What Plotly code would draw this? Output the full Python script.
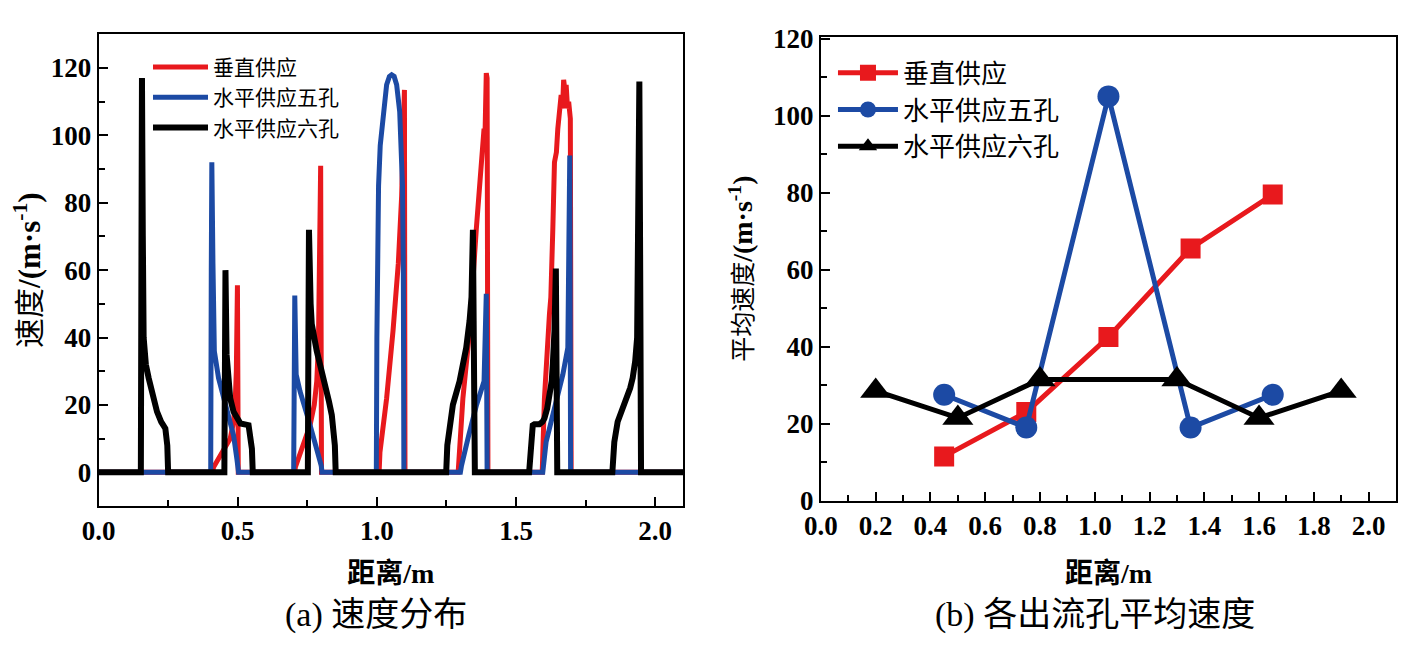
import plotly.graph_objects as go

# ---- (a) velocity distribution along the pipe ----
names = ["垂直供应", "水平供应五孔", "水平供应六孔"]

vert_x = [0.0, 0.41, 0.413, 0.44, 0.473, 0.485, 0.491, 0.495, 0.497, 0.499, 0.502,
          0.705, 0.707, 0.76, 0.775, 0.784, 0.79, 0.793, 0.796, 0.798, 0.801,
          1.008, 1.011, 1.035, 1.058, 1.077, 1.089, 1.094, 1.097, 1.099, 1.101,
          1.292, 1.309, 1.333, 1.357, 1.375, 1.385, 1.388, 1.39, 1.392, 1.393, 1.396, 1.399,
          1.594, 1.602, 1.62, 1.625, 1.632, 1.638, 1.645, 1.65, 1.662, 1.667, 1.671,
          1.676, 1.68, 1.685, 1.689, 1.695, 1.698, 2.1]
vert_y = [0, 0, 1.5, 5.5, 10, 15, 21, 30, 42, 55.5, 0,
          0, 1.5, 14, 20, 27, 38, 52, 75, 91, 0,
          0, 6, 22, 42, 62, 82, 102, 110, 113.5, 0,
          0, 22, 42, 72, 92, 102, 98, 110, 104, 118.5, 117, 0,
          0, 22, 47, 52, 72, 92, 95, 102, 112, 108, 116.5,
          113, 115, 108, 110, 105, 0, 0]

five_x = [0.0, 0.403, 0.405, 0.407, 0.411, 0.416, 0.431, 0.461, 0.485, 0.497, 0.503,
          0.701, 0.703, 0.705, 0.71, 0.724, 0.76, 0.784, 0.8, 0.803,
          0.998, 1.0, 1.003, 1.006, 1.012, 1.023, 1.035, 1.045, 1.053, 1.062,
          1.071, 1.082, 1.088, 1.092, 1.095, 1.097,
          1.3, 1.304, 1.33, 1.358, 1.385, 1.39, 1.393, 1.396,
          1.596, 1.608, 1.632, 1.668, 1.686, 1.69, 1.693, 1.696, 2.1]
five_y = [0, 0, 60, 92, 62, 36, 28, 18, 11, 4, 0,
          0, 35, 52.5, 29, 24, 14, 7, 2, 0,
          0, 40, 70, 85, 97, 107, 115, 117.5, 118, 117.5,
          115, 107, 97, 85, 60, 0,
          0, 2, 11, 20, 27, 40, 53, 0,
          0, 9, 17, 29, 37, 60, 94, 0, 0]

six_x = [0.0, 0.152, 0.154, 0.156, 0.159, 0.162, 0.17, 0.18, 0.195, 0.21, 0.225, 0.24, 0.247, 0.25,
         0.452, 0.454, 0.456, 0.46, 0.467, 0.473, 0.485, 0.497, 0.51, 0.539, 0.546, 0.551, 0.554,
         0.752, 0.754, 0.756, 0.762, 0.766, 0.784, 0.8, 0.814, 0.828, 0.838, 0.845, 0.849, 0.852,
         1.249, 1.253, 1.258, 1.273, 1.297, 1.321, 1.333, 1.34, 1.345, 1.349, 1.352,
         1.547, 1.551, 1.554, 1.56, 1.566, 1.584, 1.595, 1.602, 1.612, 1.62, 1.628, 1.632, 1.638,
         1.643, 1.646, 1.648,
         1.846, 1.849, 1.853, 1.865, 1.88, 1.895, 1.91, 1.919, 1.928, 1.935, 1.94, 1.943, 1.946,
         1.949, 2.1]
six_y = [0, 0, 60, 117, 70, 40, 32, 28, 22, 18, 15, 13, 8, 0,
         0, 30, 60, 35, 26, 22, 18, 16, 14.5, 14, 11, 7, 0,
         0, 40, 72, 50, 44, 36, 31, 27, 21, 17, 12, 8, 0,
         0, 8, 12, 20, 27, 37, 45, 52, 72, 40, 0,
         0, 6, 12, 14, 14.3, 14.3, 15, 16, 19, 22, 27, 32, 42,
         60.5, 30, 0,
         0, 5, 9, 15, 18, 21, 25, 28, 33, 40, 70, 116, 60,
         0, 0]

# ---- (b) mean velocity of each outlet ----
vert_hole_x = [0.45, 0.75, 1.05, 1.35, 1.65]
vert_hole_y = [11.5, 23, 42.5, 65.5, 79.5]
five_hole_x = [0.45, 0.75, 1.05, 1.35, 1.65]
five_hole_y = [27.5, 19, 105, 19, 27.5]
six_hole_x = [0.2, 0.5, 0.8, 1.3, 1.6, 1.9]
six_hole_y = [28.5, 21.5, 31.5, 31.5, 21.5, 28.5]

RED = "#e8191d"
BLUE = "#1c4aa4"
BLACK = "#000000"
SERIF = "Liberation Serif, Noto Sans CJK SC"
CJK = "Noto Sans CJK SC"

fig = go.Figure()

fig.add_trace(go.Scatter(x=vert_x, y=vert_y, mode="lines", name=names[0],
                         line=dict(color=RED, width=5), legend="legend"))
fig.add_trace(go.Scatter(x=five_x, y=five_y, mode="lines", name=names[1],
                         line=dict(color=BLUE, width=5), legend="legend"))
fig.add_trace(go.Scatter(x=six_x, y=six_y, mode="lines", name=names[2],
                         line=dict(color=BLACK, width=6), legend="legend"))

fig.add_trace(go.Scatter(x=vert_hole_x, y=vert_hole_y, mode="lines+markers", name=names[0],
                         line=dict(color=RED, width=5),
                         marker=dict(symbol="square", size=20, color=RED),
                         xaxis="x2", yaxis="y2", legend="legend2"))
fig.add_trace(go.Scatter(x=five_hole_x, y=five_hole_y, mode="lines+markers", name=names[1],
                         line=dict(color=BLUE, width=5),
                         marker=dict(symbol="circle", size=22, color=BLUE),
                         xaxis="x2", yaxis="y2", legend="legend2"))
fig.add_trace(go.Scatter(x=six_hole_x, y=six_hole_y, mode="lines+markers", name=names[2],
                         line=dict(color=BLACK, width=5),
                         marker=dict(symbol="triangle-up", size=27, color=BLACK),
                         xaxis="x2", yaxis="y2", legend="legend2"))

axis_common = dict(
    showline=True, linecolor="black", linewidth=2, mirror=True,
    ticks="inside", ticklen=9, tickwidth=2, tickcolor="black",
    showgrid=False, zeroline=False, automargin=False,
    tickfont=dict(family="Liberation Serif", size=27, color="black", weight="bold"),
)

unit = "<b><span style='font-size:{}px'>/(m·s<sup>-1</sup>)</span></b>"

fig.update_layout(
    width=1417, height=651,
    margin=dict(l=0, r=0, t=0, b=0, autoexpand=False),
    paper_bgcolor="white", plot_bgcolor="white",
    xaxis=dict(axis_common, domain=[0.0639, 0.4764], range=[0, 2.1],
               tickvals=[0, 0.5, 1.0, 1.5, 2.0], ticktext=["0.0", "0.5", "1.0", "1.5", "2.0"],
               minor=dict(ticks="inside", ticklen=6, tickwidth=2, dtick=0.25, tick0=0),
               title=dict(text="<b>距离/m</b>", standoff=18,
                          font=dict(family=SERIF, size=28, color="black"))),
    yaxis=dict(axis_common, domain=[0.235, 0.9596], range=[-10, 130],
               tickvals=[0, 20, 40, 60, 80, 100, 120],
               minor=dict(ticks="inside", ticklen=6, tickwidth=2, dtick=10, tick0=0),
               title=dict(text="速度" + unit.format(31), standoff=5,
                          font=dict(family=SERIF, size=30, color="black"))),
    xaxis2=dict(axis_common, domain=[0.5737, 0.9795], range=[0, 2.1], anchor="y2",
                tickvals=[0, 0.2, 0.4, 0.6, 0.8, 1.0, 1.2, 1.4, 1.6, 1.8, 2.0],
                ticktext=["0.0", "0.2", "0.4", "0.6", "0.8", "1.0", "1.2", "1.4", "1.6", "1.8", "2.0"],
                minor=dict(ticks="inside", ticklen=6, tickwidth=2, dtick=0.1, tick0=0),
                title=dict(text="<b>距离/m</b>", standoff=23,
                           font=dict(family=SERIF, size=28, color="black"))),
    yaxis2=dict(axis_common, domain=[0.2432, 0.9559], range=[0, 120.5], anchor="x2",
                tickvals=[0, 20, 40, 60, 80, 100, 120],
                minor=dict(ticks="inside", ticklen=6, tickwidth=2, dtick=10, tick0=0),
                title=dict(text="平均速度" + unit.format(28), standoff=13,
                           font=dict(family=SERIF, size=25, color="black"))),
    legend=dict(x=0.0988, y=0.9404, xanchor="left", yanchor="top",
                bgcolor="rgba(0,0,0,0)", itemwidth=55, tracegroupgap=0,
                font=dict(family=CJK, size=21, color="black")),
    legend2=dict(x=0.5822, y=0.9366, xanchor="left", yanchor="top",
                 bgcolor="rgba(0,0,0,0)", itemwidth=60, tracegroupgap=0,
                 font=dict(family=CJK, size=26, color="black")),
    annotations=[
        dict(text="(a) 速度分布", x=0.2594, y=0.0676, xref="paper", yref="paper",
             xanchor="center", yanchor="middle", showarrow=False,
             font=dict(family=SERIF, size=34, color="black")),
        dict(text="(b) 各出流孔平均速度", x=0.767, y=0.0676, xref="paper", yref="paper",
             xanchor="center", yanchor="middle", showarrow=False,
             font=dict(family=SERIF, size=34, color="black")),
    ],
)

fig.write_html("out.html")
